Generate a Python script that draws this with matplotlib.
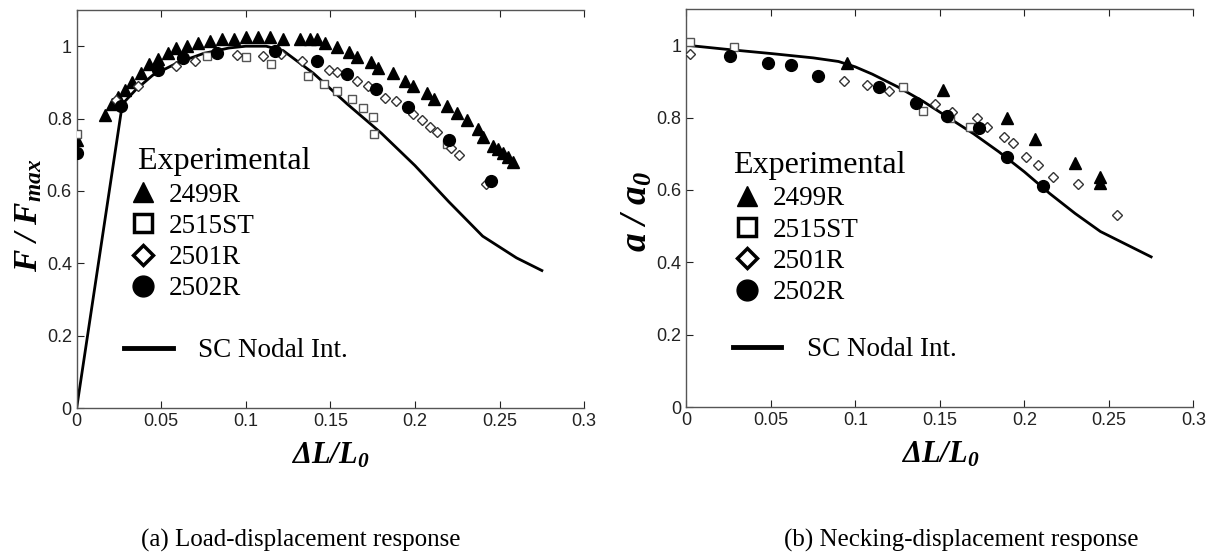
import matplotlib
matplotlib.use('Agg')
import matplotlib.pyplot as plt
from matplotlib.lines import Line2D

plt.rcParams['mathtext.fontset'] = 'custom'
plt.rcParams['mathtext.rm'] = 'Liberation Serif'
plt.rcParams['mathtext.it'] = 'Liberation Serif:italic'
plt.rcParams['mathtext.bf'] = 'Liberation Serif:bold'
plt.rcParams['mathtext.bfit'] = 'Liberation Serif:italic:bold'

# ---- (a) load-displacement ----
a_line_x = [0, 0.027, 0.035, 0.045, 0.06, 0.075, 0.09, 0.10, 0.112, 0.122, 0.14, 0.16, 0.18, 0.20, 0.22, 0.24, 0.26, 0.275]
a_line_y = [0, 0.84, 0.88, 0.92, 0.955, 0.98, 0.995, 1.0, 1.0, 0.988, 0.925, 0.84, 0.76, 0.67, 0.57, 0.475, 0.415, 0.38]

a_tri_x = [0.0, 0.017, 0.021, 0.0245, 0.0286, 0.033, 0.038, 0.043, 0.048, 0.054, 0.059, 0.065, 0.072, 0.079, 0.086,
           0.093, 0.100, 0.107, 0.114, 0.122, 0.132, 0.138, 0.142, 0.147, 0.154, 0.161, 0.166, 0.174, 0.178, 0.187,
           0.194, 0.199, 0.207, 0.211, 0.219, 0.225, 0.231, 0.237, 0.240, 0.246, 0.249, 0.252, 0.255, 0.258]
a_tri_y = [0.74, 0.81, 0.84, 0.86, 0.88, 0.90, 0.925, 0.95, 0.965, 0.98, 0.995, 1.0, 1.008, 1.015, 1.02,
           1.02, 1.025, 1.025, 1.025, 1.02, 1.02, 1.02, 1.02, 1.01, 0.997, 0.985, 0.97, 0.955, 0.94, 0.925,
           0.905, 0.89, 0.87, 0.855, 0.835, 0.815, 0.795, 0.77, 0.75, 0.725, 0.715, 0.705, 0.695, 0.68]

a_sq_x = [0.0, 0.077, 0.100, 0.115, 0.137, 0.146, 0.154, 0.163, 0.169, 0.175, 0.176, 0.219]
a_sq_y = [0.756, 0.972, 0.969, 0.95, 0.917, 0.895, 0.876, 0.853, 0.828, 0.803, 0.756, 0.73]

a_dia_x = [0.023, 0.036, 0.059, 0.070, 0.095, 0.110, 0.121, 0.133, 0.149, 0.154, 0.166, 0.172, 0.182, 0.189,
           0.199, 0.204, 0.209, 0.213, 0.221, 0.226, 0.242]
a_dia_y = [0.85, 0.89, 0.945, 0.96, 0.975, 0.973, 0.978, 0.958, 0.934, 0.928, 0.903, 0.89, 0.856, 0.848,
           0.812, 0.795, 0.778, 0.762, 0.72, 0.70, 0.62]

a_dot_x = [0.0, 0.026, 0.048, 0.063, 0.083, 0.117, 0.142, 0.160, 0.177, 0.196, 0.220, 0.245]
a_dot_y = [0.706, 0.835, 0.933, 0.967, 0.98, 0.986, 0.96, 0.922, 0.883, 0.831, 0.74, 0.628]

# ---- (b) necking-displacement ----
b_line_x = [0, 0.025, 0.05, 0.075, 0.09, 0.10, 0.11, 0.125, 0.14, 0.155, 0.17, 0.185, 0.2, 0.215, 0.23, 0.245, 0.26, 0.275]
b_line_y = [1.0, 0.988, 0.977, 0.965, 0.955, 0.94, 0.92, 0.885, 0.845, 0.80, 0.755, 0.705, 0.65, 0.59, 0.535, 0.485, 0.45, 0.415]

b_tri_x = [0.095, 0.152, 0.19, 0.206, 0.23, 0.245, 0.245]
b_tri_y = [0.95, 0.876, 0.80, 0.74, 0.675, 0.635, 0.62]

b_sq_x = [0.002, 0.028, 0.128, 0.140, 0.156, 0.168]
b_sq_y = [1.008, 0.994, 0.884, 0.818, 0.798, 0.775]

b_dia_x = [0.002, 0.093, 0.107, 0.120, 0.147, 0.157, 0.172, 0.178, 0.188, 0.193, 0.201, 0.208, 0.217, 0.232, 0.255]
b_dia_y = [0.975, 0.90, 0.89, 0.873, 0.837, 0.815, 0.80, 0.775, 0.745, 0.73, 0.69, 0.67, 0.635, 0.615, 0.53]

b_dot_x = [0.026, 0.048, 0.062, 0.078, 0.114, 0.136, 0.154, 0.173, 0.19, 0.211]
b_dot_y = [0.97, 0.95, 0.945, 0.914, 0.884, 0.84, 0.804, 0.77, 0.69, 0.61]

series_names = ['2499R', '2515ST', '2501R', '2502R']
line_name = 'SC Nodal Int.'
xticks = [0, 0.05, 0.1, 0.15, 0.2, 0.25, 0.3]
yticks = [0, 0.2, 0.4, 0.6, 0.8, 1]

fig = plt.figure(figsize=(12.17, 5.6), dpi=100)
ax1 = fig.add_axes([0.063, 0.2714, 0.417, 0.7107])
ax2 = fig.add_axes([0.564, 0.2732, 0.4166, 0.7107])

serif = 'Liberation Serif'


def draw(ax, lx, ly, tri, sq, dia, dot):
    ax.plot(lx, ly, color='k', lw=2.0, zorder=2)
    ax.plot(tri[0], tri[1], ls='none', marker='^', ms=8, color='k', zorder=3)
    ax.plot(sq[0], sq[1], ls='none', marker='s', ms=6, mfc='white', mec='#555555', mew=1.0, zorder=3)
    ax.plot(dia[0], dia[1], ls='none', marker='D', ms=5.5, mfc='white', mec='#333333', mew=1.0, zorder=3)
    ax.plot(dot[0], dot[1], ls='none', marker='o', ms=8.5, color='k', zorder=4)
    ax.set_xlim(0, 0.3)
    ax.set_ylim(0, 1.1)
    ax.set_xticks(xticks)
    ax.set_xticklabels(['0', '0.05', '0.1', '0.15', '0.2', '0.25', '0.3'])
    ax.set_yticks(yticks)
    ax.set_yticklabels(['0', '0.2', '0.4', '0.6', '0.8', '1'])
    ax.tick_params(direction='in', length=5, top=True, right=False, labelsize=13, colors='#222222')
    for lab in ax.get_xticklabels() + ax.get_yticklabels():
        lab.set_fontfamily('Liberation Sans')
    for s in ax.spines.values():
        s.set_color('#555555')
        s.set_linewidth(1.0)
    ax.spines['right'].set_visible(False)

    handles = [
        Line2D([], [], ls='none', marker='^', ms=15, color='k'),
        Line2D([], [], ls='none', marker='s', ms=13, mfc='white', mec='k', mew=2.5),
        Line2D([], [], ls='none', marker='D', ms=10, mfc='white', mec='k', mew=2.5),
        Line2D([], [], ls='none', marker='o', ms=15, color='k'),
    ]
    return handles


h = draw(ax1, a_line_x, a_line_y, (a_tri_x, a_tri_y), (a_sq_x, a_sq_y), (a_dia_x, a_dia_y), (a_dot_x, a_dot_y))
draw(ax2, b_line_x, b_line_y, (b_tri_x, b_tri_y), (b_sq_x, b_sq_y), (b_dia_x, b_dia_y), (b_dot_x, b_dot_y))

# legend placement per panel: (x, y of experimental block, title text, x of line block)
for ax, lx, ly, title, lx2 in [(ax1, 0.105, 0.655, ' Experimental', 0.093),
                               (ax2, 0.093, 0.643, 'Experimental', 0.091)]:
    leg = ax.legend(h, series_names, loc='upper left', bbox_to_anchor=(lx, ly), frameon=False,
                    title=title, alignment='left', handlelength=1.0, handletextpad=0.45,
                    labelspacing=0.23, borderpad=0, borderaxespad=0,
                    prop={'family': serif, 'size': 19.5},
                    title_fontproperties={'family': serif, 'size': 23})
    ax.add_artist(leg)
    ax.legend([Line2D([], [], color='k', lw=3.5)], [line_name], loc='upper left',
              bbox_to_anchor=(lx2, 0.175), frameon=False, handlelength=1.8, handletextpad=0.95,
              borderpad=0, borderaxespad=0, prop={'family': serif, 'size': 19.5})

for ax in (ax1, ax2):
    ax.set_xlabel(r'$\mathbfit{\Delta L/L_0}$', fontsize=22)
    ax.xaxis.set_label_coords(0.5, -0.118)
    ax.xaxis.label.set_va('center')

ax1.set_ylabel(r'$\mathbfit{F\ /\ F_{max}}$', fontsize=24)
ax1.yaxis.set_label_coords(-0.096, 0.485)
ax1.yaxis.label.set_va('center')
ax2.set_ylabel(r'$\mathbfit{a\ /\ a_0}$', fontsize=27)
ax2.yaxis.set_label_coords(-0.098, 0.49)
ax2.yaxis.label.set_va('center')

fig.text(301 / 1217, 1 - 540 / 560, '(a) Load-displacement response', ha='center', va='center',
         family=serif, fontsize=18)
fig.text(961 / 1217, 1 - 540 / 560, '(b) Necking-displacement response', ha='center', va='center',
         family=serif, fontsize=18)

fig.savefig('out.png', dpi=100)
